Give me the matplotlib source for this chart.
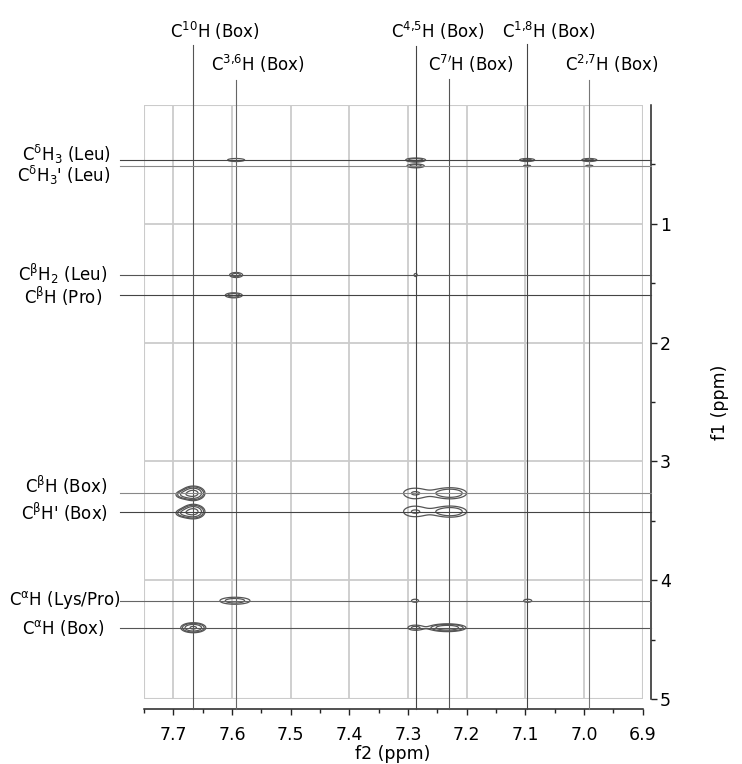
import numpy as np
import matplotlib
matplotlib.use("Agg")
import matplotlib.pyplot as plt
from matplotlib.transforms import blended_transform_factory, ScaledTranslation
from matplotlib.patches import Rectangle
from matplotlib.ticker import FixedLocator, FormatStrFormatter

plt.rcParams['font.family'] = ['DejaVu Sans']
plt.rcParams['mathtext.fontset'] = 'dejavusans'

# ---- assignments along f2 (aromatic protons of the box) ----
f2_labels = [r"C$^{\mathrm{10}}$H (Box)", r"C$^{\mathrm{3{,}6}}$H (Box)",
             r"C$^{\mathrm{4{,}5}}$H (Box)", r"C$^{\mathrm{7}\prime}$H (Box)",
             r"C$^{\mathrm{1{,}8}}$H (Box)", r"C$^{\mathrm{2{,}7}}$H (Box)"]
f2_shifts = [7.666, 7.593, 7.287, 7.231, 7.097, 6.991]

# ---- assignments along f1 (aliphatic protons) ----
f1_labels = [r"C$^{\mathrm{\delta}}$H$_{\mathrm{3}}$ (Leu)",
             r"C$^{\mathrm{\delta}}$H$_{\mathrm{3}}$' (Leu)",
             r"C$^{\mathrm{\beta}}$H$_{\mathrm{2}}$ (Leu)",
             r"C$^{\mathrm{\beta}}$H (Pro)",
             r"C$^{\mathrm{\beta}}$H (Box)",
             r"C$^{\mathrm{\beta}}$H' (Box)",
             r"C$^{\mathrm{\alpha}}$H (Lys/Pro)",
             r"C$^{\mathrm{\alpha}}$H (Box)"]
f1_shifts = [0.463, 0.513, 1.431, 1.602, 3.268, 3.423, 4.173, 4.400]

# ---- cross peaks: centre (ppm), gaussian widths (ppm), intensity ----
peak_f2 = [7.593, 7.287, 7.287, 7.097, 7.097, 6.991, 6.991,
           7.593, 7.287, 7.597,
           7.666, 7.684, 7.666, 7.684,
           7.289, 7.228, 7.289, 7.228,
           7.595, 7.288, 7.096,
           7.666, 7.288, 7.233]
peak_f1 = [0.463, 0.463, 0.513, 0.463, 0.513, 0.463, 0.513,
           1.431, 1.431, 1.602,
           3.268, 3.280, 3.423, 3.435,
           3.268, 3.268, 3.423, 3.423,
           4.173, 4.173, 4.173,
           4.400, 4.400, 4.400]
peak_w2 = [0.0177, 0.0135, 0.0125, 0.0118, 0.0099, 0.0118, 0.0099,
           0.0094, 0.0060, 0.0115,
           0.0105, 0.0090, 0.0105, 0.0090,
           0.0200, 0.0210, 0.0200, 0.0210,
           0.0217, 0.0100, 0.0113,
           0.0119, 0.0116, 0.0187]
peak_w1 = [0.0154, 0.0134, 0.0134, 0.0116, 0.0100, 0.0116, 0.0100,
           0.0180, 0.0290, 0.0168,
           0.0320, 0.0220, 0.0320, 0.0220,
           0.0450, 0.0350, 0.0450, 0.0350,
           0.0250, 0.0210, 0.0210,
           0.0235, 0.0204, 0.0194]
peak_int = [0.14, 0.22, 0.20, 0.18, 0.12, 0.18, 0.12,
            0.20, 0.11, 0.22,
            0.60, 0.20, 0.60, 0.20,
            0.153, 0.24, 0.153, 0.24,
            0.20, 0.12, 0.12,
            0.50, 0.17, 0.42]
contour_levels = [0.10, 0.15, 0.25, 0.45]

f2_major = [7.7, 7.6, 7.5, 7.4, 7.3, 7.2, 7.1, 7.0, 6.9]
f2_minor = [7.75, 7.65, 7.55, 7.45, 7.35, 7.25, 7.15, 7.05, 6.95]
f1_major = [1, 2, 3, 4, 5]
f1_minor = [0.5, 1.5, 2.5, 3.5, 4.5]

# ---- figure layout ----
W, H, DPI = 742, 764, 100
fig = plt.figure(figsize=(W / DPI, H / DPI), dpi=DPI)
ax_l, ax_r, ax_t, ax_b = 144, 642.7, 105, 699
ax = fig.add_axes([ax_l / W, 1 - ax_b / H, (ax_r - ax_l) / W, (ax_b - ax_t) / H])
ax.set_xlim(7.75, 6.9)
ax.set_ylim(5.0, 0.0)
ax_w, ax_h = ax_r - ax_l, ax_b - ax_t

# synthetic 2D spectrum from the peak table
x = np.linspace(7.75, 6.9, 1500)
y = np.linspace(0.0, 5.0, 2400)
Z = np.zeros((y.size, x.size))
for c2, c1, w2, w1, a in zip(peak_f2, peak_f1, peak_w2, peak_w1, peak_int):
    gx = np.exp(-0.5 * ((x - c2) / w2) ** 2)
    gy = np.exp(-0.5 * ((y - c1) / w1) ** 2)
    Z += a * np.outer(gy, gx)

# light grid and frame
grid_c = '#cbcbcb'
ax.vlines(f2_major[:-1], 0, 5, colors=grid_c, lw=1.3, zorder=1)
ax.hlines(f1_major[:-1], 7.75, 6.9, colors=grid_c, lw=1.3, zorder=1)
ax.add_patch(Rectangle((0, 0), 1, 1, transform=ax.transAxes, fill=False,
                       ec=grid_c, lw=1.5, zorder=1))

ax.contour(x, y, Z, levels=contour_levels, colors='#555555',
           linewidths=0.9, zorder=3)

# assignment lines
v_colors = ['#555555', '#666666', '#444444', '#555555', '#444444', '#777777']
h_colors = ['#444444', '#888888', '#555555', '#444444',
            '#888888', '#444444', '#666666', '#555555']
top_px = [45, 80, 46, 79, 44, 80]
bt = blended_transform_factory(ax.transData, ax.transAxes)
bt_h = blended_transform_factory(ax.transAxes, ax.transData)
y_bottom = -(709 - ax_b) / ax_h
for xs, lab, col, tp in zip(f2_shifts, f2_labels, v_colors, top_px):
    y_top = (ax_b - tp) / ax_h
    ax.plot([xs, xs], [y_bottom, y_top], transform=bt, color=col,
            lw=0.8, clip_on=False, zorder=4)
    ty = (ax_b - (30.7 if tp < 60 else 64)) / ax_h
    off = ScaledTranslation(22 / DPI, 0, fig.dpi_scale_trans)
    ax.text(xs, ty, lab, transform=bt + off, ha='center', va='center',
            fontsize=12, clip_on=False)

x_start = -(ax_l - 120) / ax_w
x_end = 1 + (651 - ax_r) / ax_w
label_right_px = [110.7, 110.7, 107, 101.7, 107.7, 108.3, 120.7, 104.3]
label_dy_px = [-6, 9.5, -1, 1, -8, 1, -1, 0]
for ys, lab, col, rx, dy in zip(f1_shifts, f1_labels, h_colors,
                                label_right_px, label_dy_px):
    ax.plot([x_start, x_end], [ys, ys], transform=bt_h, color=col,
            lw=0.8, clip_on=False, zorder=4)
    off = ScaledTranslation(0, -dy / DPI, fig.dpi_scale_trans)
    ax.text(-(ax_l - rx) / ax_w, ys, lab, transform=bt_h + off,
            ha='right', va='center', fontsize=12, clip_on=False)

# axes styling
for s in ('top', 'left'):
    ax.spines[s].set_visible(False)
ax.spines['bottom'].set_position(('outward', (709 - ax_b) * 72 / DPI))
ax.spines['right'].set_position(('outward', (650.7 - ax_r) * 72 / DPI))
for s in ('bottom', 'right'):
    ax.spines[s].set_color('#222222')
    ax.spines[s].set_linewidth(1.1)
ax.yaxis.tick_right()
ax.xaxis.set_major_locator(FixedLocator(f2_major))
ax.xaxis.set_minor_locator(FixedLocator(f2_minor))
ax.yaxis.set_major_locator(FixedLocator(f1_major))
ax.yaxis.set_minor_locator(FixedLocator(f1_minor))
ax.xaxis.set_major_formatter(FormatStrFormatter('%.1f'))
ax.yaxis.set_major_formatter(FormatStrFormatter('%d'))
ax.tick_params(axis='x', which='major', direction='out', length=4.3,
               width=1.0, color='#222222', labelsize=12.5, pad=8)
ax.tick_params(axis='x', which='minor', direction='out', length=3.0,
               width=1.0, color='#222222')
ax.tick_params(axis='y', which='major', direction='out', length=4.5,
               width=1.0, color='#222222', labelsize=12.5, pad=2)
ax.tick_params(axis='y', which='minor', direction='out', length=3.0,
               width=1.0, color='#222222')

fig.text(393 / W, 1 - 754 / H, 'f2 (ppm)', ha='center', va='center',
         fontsize=12.5)
fig.text(720 / W, 1 - 402 / H, 'f1 (ppm)', ha='center', va='center',
         rotation=90, fontsize=12.5)

fig.savefig('out.png', dpi=DPI)
